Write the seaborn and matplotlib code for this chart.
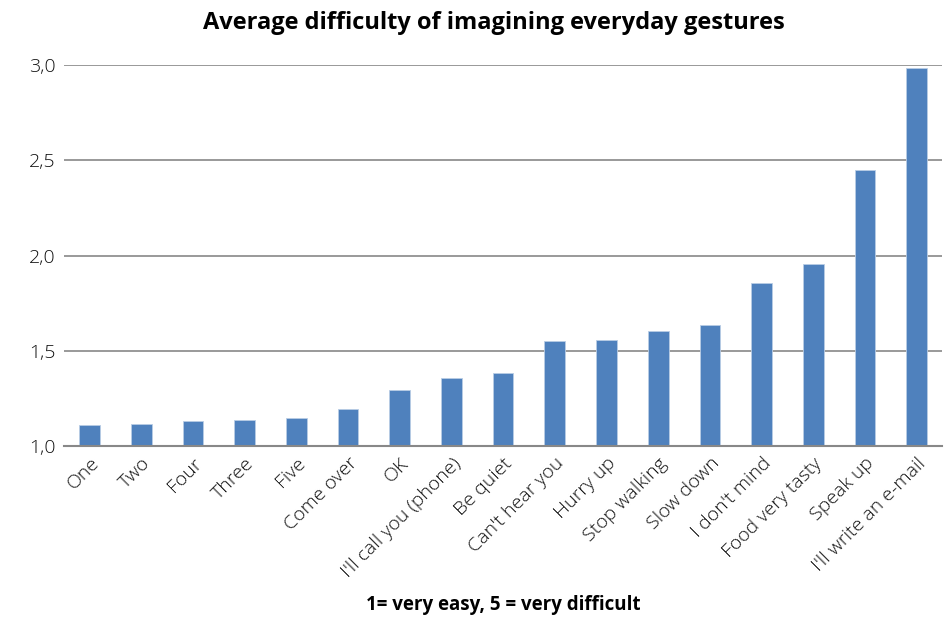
import pandas as pd
import seaborn as sns
import matplotlib.pyplot as plt
from matplotlib.ticker import FuncFormatter

gestures = ['One', 'Two', 'Four', 'Three', 'Five', 'Come over', 'OK',
            "I'll call you (phone)", 'Be quiet', "Can't hear you", 'Hurry up',
            'Stop walking', 'Slow down', "I don't mind", 'Food very tasty',
            'Speak up', "I'll write an e-mail"]
difficulty = [1.109, 1.114, 1.132, 1.138, 1.149, 1.195, 1.296, 1.359, 1.383,
              1.553, 1.556, 1.604, 1.638, 1.856, 1.958, 2.451, 2.984]

df = pd.DataFrame({'gesture': gestures, 'difficulty': difficulty})

sns.set_style('white')
plt.rcParams['font.family'] = ['Open Sans', 'DejaVu Sans']

fig = plt.figure(figsize=(9.52, 6.22), dpi=100)
ax = fig.add_axes([0.067, 0.283, 0.923, 0.612])

sns.barplot(data=df, x='gesture', y='difficulty', color='#4F81BD',
            saturation=1, width=0.4, edgecolor='#B9CDE5', linewidth=0.6, ax=ax)

ax.set_ylim(1.0, 3.0)
ax.set_yticks([1.0, 1.5, 2.0, 2.5, 3.0])
ax.yaxis.set_major_formatter(FuncFormatter(lambda v, p: '{:.1f}'.format(v).replace('.', ',')))
ax.grid(axis='y', color='#888888', linewidth=1.2)
ax.set_axisbelow(True)
for s in ['top', 'right', 'left']:
    ax.spines[s].set_visible(False)
ax.spines['bottom'].set_color('#888888')
ax.spines['bottom'].set_linewidth(1.5)
ax.tick_params(axis='both', length=0, labelsize=14, colors='#111111', pad=6)
ax.set_xlim(-0.5, len(gestures) - 0.5)

for lab in ax.get_xticklabels():
    lab.set_rotation(45)
    lab.set_ha('right')
    lab.set_rotation_mode('anchor')
    lab.set_fontweight('light')
for lab in ax.get_yticklabels():
    lab.set_fontweight('light')

ax.set_ylabel('')
ax.set_xlabel('1= very easy, 5 = very difficult', fontsize=13.5, fontweight='bold',
              color='black', labelpad=10)
fig.text(0.519, 0.963, 'Average difficulty of imagining everyday gestures',
         ha='center', va='center', fontsize=17, fontweight='bold', color='black')

fig.savefig('out.png', dpi=100)
